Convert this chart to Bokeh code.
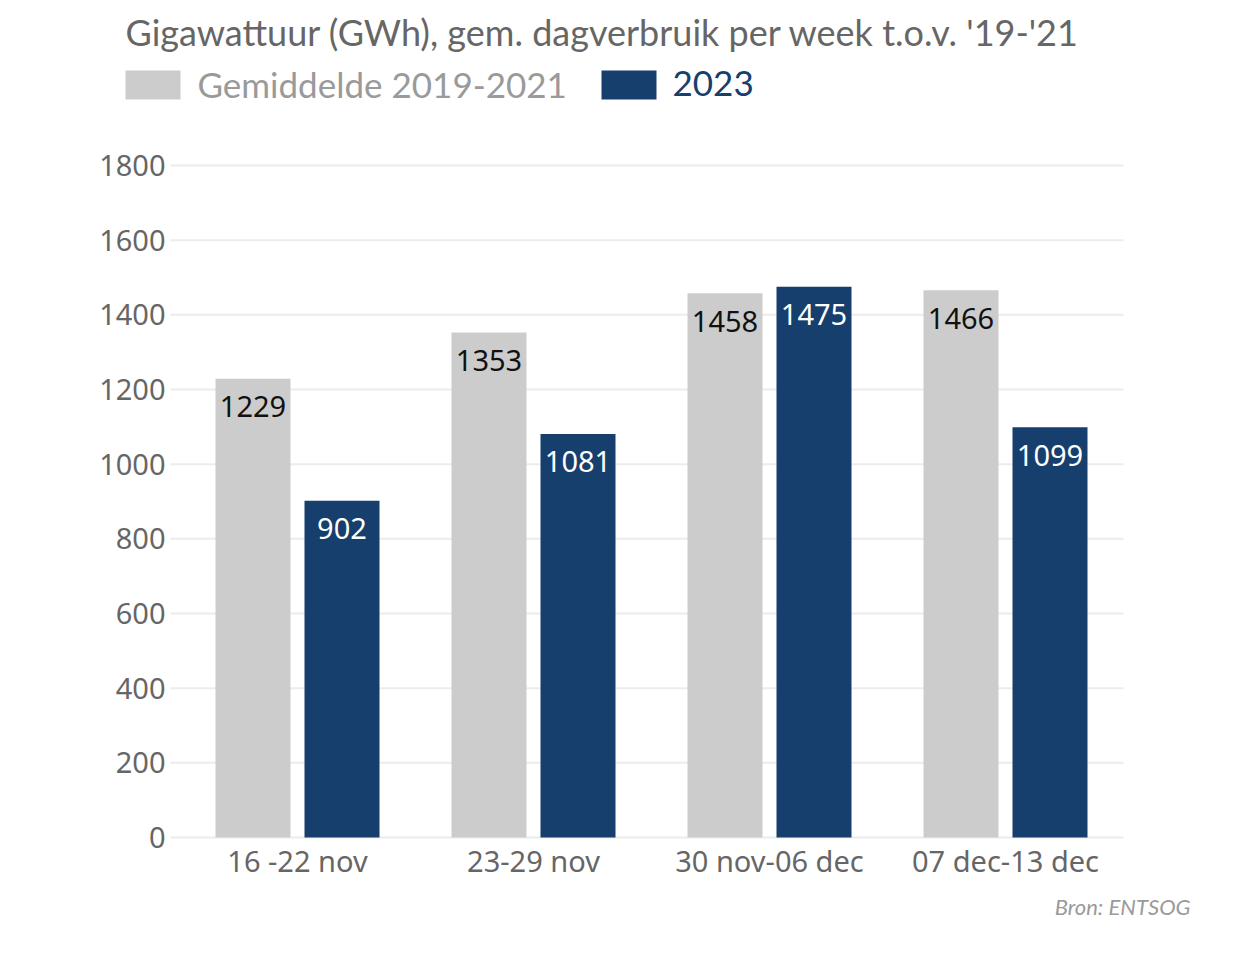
from bokeh.plotting import figure
from bokeh.models import ColumnDataSource, Label, BoxAnnotation, FixedTicker
from bokeh.core.properties import value
from bokeh.transform import dodge
from bokeh.embed import file_html
from bokeh.resources import INLINE

# ---- data ----
weeks = ["16 -22 nov", "23-29 nov", "30 nov-06 dec", "07 dec-13 dec"]
avg_2019_2021 = [1229, 1353, 1458, 1466]
values_2023 = [902, 1081, 1475, 1099]
y_ticks = [0, 200, 400, 600, 800, 1000, 1200, 1400, 1600, 1800]
title_text = "Gigawattuur (GWh), gem. dagverbruik per week t.o.v. '19-'21"
legend_avg = "Gemiddelde 2019-2021"
legend_2023 = "2023"
source_text = "Bron: ENTSOG"

GRAY = "#cccccc"
NAVY = "#163f6e"
AXIS_TXT = "#666666"

idx = list(range(len(weeks)))
src = ColumnDataSource(dict(
    x=idx,
    avg=avg_2019_2021,
    cur=values_2023,
    avg_lbl=[str(v) for v in avg_2019_2021],
    cur_lbl=[str(v) for v in values_2023],
))

PX_X = 236.0          # pixels per category
PX_Y = 672.0 / 1800   # pixels per unit
X0 = 297.0            # canvas x of category 0
Y0 = 837.0            # canvas y of value 0


def xd(xi):
    return (xi - X0) / PX_X


def yd(yi):
    return (Y0 - yi) / PX_Y


W, H = 1242, 950
p = figure(width=W, height=H, output_backend="svg", toolbar_location=None,
           x_range=(xd(0), xd(W)), y_range=(yd(H), yd(0)),
           min_border=0)
p.outline_line_color = None
p.background_fill_color = "white"
p.border_fill_color = "white"

# grid lines (only across the plotting area)
p.segment(x0=xd(170), x1=xd(1123), y0=y_ticks, y1=y_ticks,
          line_color="#ececec", line_width=2)

off = 44.5 / PX_X
bw = 75.0 / PX_X
p.vbar(x=dodge("x", -off), top="avg", width=bw, bottom=0, source=src,
       fill_color=GRAY, line_color=None)
p.vbar(x=dodge("x", off), top="cur", width=bw, bottom=0, source=src,
       fill_color=NAVY, line_color=None)

p.text(x=dodge("x", -off), y="avg", text="avg_lbl", source=src,
       text_align="center", text_baseline="middle", y_offset=28,
       text_color="#111111", text_font=value("Noto Sans"), text_font_size="29px")
p.text(x=dodge("x", off), y="cur", text="cur_lbl", source=src,
       text_align="center", text_baseline="middle", y_offset=28,
       text_color="white", text_font=value("Noto Sans"), text_font_size="29px")

# axes, fixed inside the frame
p.xaxis.fixed_location = 0
p.yaxis.fixed_location = xd(170)
p.xaxis.ticker = FixedTicker(ticks=idx)
p.xaxis.major_label_overrides = {i: w for i, w in zip(idx, weeks)}
p.yaxis.ticker = FixedTicker(ticks=y_ticks)
for ax in (p.xaxis[0], p.yaxis[0]):
    ax.axis_line_color = None
    ax.major_tick_line_color = None
    ax.minor_tick_line_color = None
    ax.major_tick_out = 0
    ax.major_tick_in = 0
    ax.minor_tick_out = 0
    ax.major_label_text_font = "Noto Sans"
    ax.major_label_text_font_size = "29px"
    ax.major_label_text_color = AXIS_TXT
p.xaxis.major_label_standoff = 3
p.yaxis.major_label_standoff = 5

p.xgrid.grid_line_color = None
p.ygrid.grid_line_color = None

# title and legend
p.add_layout(Label(x=xd(125), y=yd(31), text=title_text, text_align="left",
                   text_baseline="middle", text_font="Lato", text_font_size="36px",
                   text_color=AXIS_TXT))
p.add_layout(BoxAnnotation(left=xd(125), right=xd(180), top=yd(70), bottom=yd(99),
                           fill_color=GRAY, fill_alpha=1, line_color=None))
p.add_layout(Label(x=xd(197), y=yd(83), text=legend_avg, text_align="left",
                   text_baseline="middle", text_font="Lato", text_font_size="35px",
                   text_color="#9a9a9a"))
p.add_layout(BoxAnnotation(left=xd(601), right=xd(656), top=yd(70), bottom=yd(99),
                           fill_color=NAVY, fill_alpha=1, line_color=None))
p.add_layout(Label(x=xd(672), y=yd(83), text=legend_2023, text_align="left",
                   text_baseline="middle", text_font="Lato", text_font_size="35px",
                   text_color=NAVY))
p.add_layout(Label(x=xd(1190), y=yd(906), text=source_text, text_align="right",
                   text_baseline="middle", text_font="Lato", text_font_size="22px",
                   text_font_style="italic", text_color="#9a9a9a"))

open("out.html", "w").write(file_html(p, INLINE))
